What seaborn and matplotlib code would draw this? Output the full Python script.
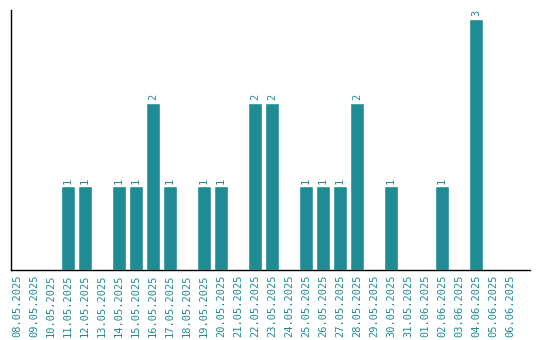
import pandas as pd
import matplotlib.pyplot as plt
import seaborn as sns

sns.set_style("white")
plt.rcParams['font.family'] = ['DejaVu Sans Mono']

dates = ["08.05.2025", "09.05.2025", "10.05.2025", "11.05.2025", "12.05.2025",
         "13.05.2025", "14.05.2025", "15.05.2025", "16.05.2025", "17.05.2025",
         "18.05.2025", "19.05.2025", "20.05.2025", "21.05.2025", "22.05.2025",
         "23.05.2025", "24.05.2025", "25.05.2025", "26.05.2025", "27.05.2025",
         "28.05.2025", "29.05.2025", "30.05.2025", "31.05.2025", "01.06.2025",
         "02.06.2025", "03.06.2025", "04.06.2025", "05.06.2025", "06.06.2025"]
counts = [0, 0, 0, 1, 1, 0, 1, 1, 2, 1, 0, 1, 1, 0, 2, 2, 0, 1, 1, 1,
          2, 0, 1, 0, 0, 1, 0, 3, 0, 0]

teal = "#1f8b92"

df = pd.DataFrame({"date": dates, "count": counts})

fig = plt.figure(figsize=(5.4, 3.4), dpi=100)
ax = fig.add_axes([11/540, 70/340, 519/540, 260/340])

sns.barplot(data=df, x="date", y="count", color=teal, saturation=1, width=0.82, ax=ax)

labels = [str(c) if c > 0 else "" for c in counts]
ax.bar_label(ax.containers[0], labels=labels, rotation=90, color=teal,
             fontsize=7.5, padding=2)

ax.set_xlim(-0.35, 30.18)
ax.set_ylim(0, 3.11)
ax.set_xlabel("")
ax.set_ylabel("")
ax.set_yticks([])
ax.tick_params(axis="x", length=0, pad=3, labelsize=7.5, labelcolor=teal, rotation=90)
sns.despine(ax=ax)
for s in ["left", "bottom"]:
    ax.spines[s].set_color("black")
    ax.spines[s].set_linewidth(1)

fig.savefig("out.png", dpi=100)
